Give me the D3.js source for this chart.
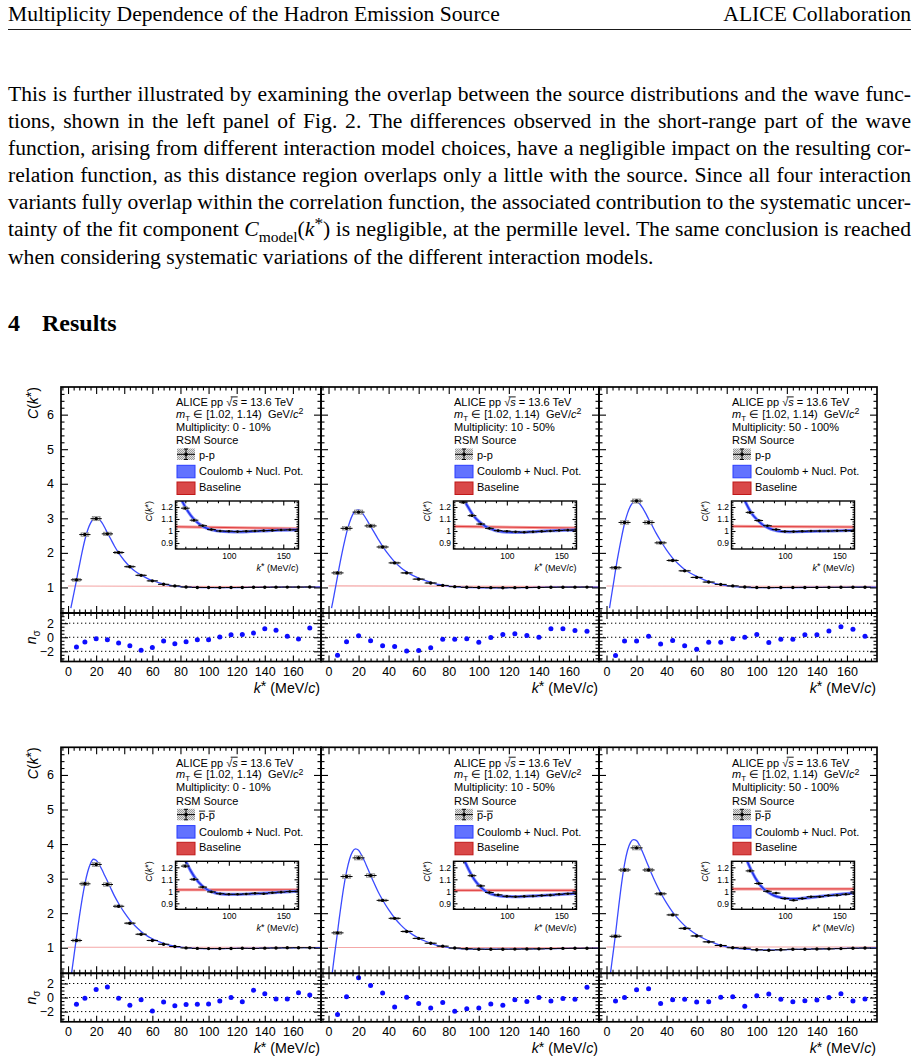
<!DOCTYPE html>
<html><head><meta charset="utf-8">
<script src="https://cdn.jsdelivr.net/npm/d3@7/dist/d3.min.js"></script>
<style>html,body{margin:0;padding:0;background:#fff}svg{display:block}</style>
</head><body>
<svg id="page" width="920" height="1060" xmlns="http://www.w3.org/2000/svg"></svg>
<script>
// ---------------- data ----------------
const kStar = [6, 12, 20, 28, 36, 44, 52, 60, 68, 76, 84, 92, 100, 108, 116, 124, 132, 140, 148, 156, 164, 172];
const kHalfBin = 4;
const statErr = [0.035, 0.04, 0.035, 0.03, 0.025, 0.02, 0.015, 0.012, 0.01, 0.008, 0.007, 0.006, 0.006, 0.005, 0.005, 0.005, 0.005, 0.005, 0.005, 0.005, 0.005, 0.005];
const sysErr  = [0.04, 0.05, 0.06, 0.05, 0.035, 0.025, 0.018, 0.012, 0.009, 0.007, 0.006, 0.005, 0.005, 0.005, 0.005, 0.005, 0.005, 0.005, 0.005, 0.005, 0.005, 0.005];

const cfPP_0_10   = [1.22, 2.53, 2.99, 2.55, 2.01, 1.60, 1.35, 1.19, 1.09, 1.044, 1.012, 1.000, 0.998, 0.995, 0.998, 1.000, 1.003, 1.005, 1.008, 1.010, 1.010, 1.012];
const cfPP_10_50  = [1.42, 2.71, 3.18, 2.78, 2.17, 1.71, 1.42, 1.24, 1.128, 1.058, 1.022, 1.003, 0.998, 0.993, 0.990, 0.993, 0.997, 1.000, 1.004, 1.007, 1.008, 1.010];
const cfPP_50_100 = [1.57, 2.88, 3.50, 2.88, 2.29, 1.78, 1.48, 1.29, 1.155, 1.087, 1.044, 1.012, 0.996, 0.995, 0.998, 1.000, 1.000, 1.000, 1.002, 1.003, 1.005, 1.006];
const cfAP_0_10   = [1.21, 2.85, 3.41, 2.83, 2.20, 1.71, 1.39, 1.21, 1.10, 1.035, 0.995, 0.980, 0.975, 0.975, 0.978, 0.983, 0.980, 0.988, 0.993, 0.998, 1.000, 1.000];
const cfAP_10_50  = [1.43, 3.06, 3.60, 3.09, 2.37, 1.85, 1.47, 1.27, 1.13, 1.045, 0.990, 0.970, 0.958, 0.955, 0.958, 0.960, 0.965, 0.968, 0.975, 0.980, 0.983, 0.985];
const cfAP_50_100 = [1.33, 3.25, 3.89, 3.25, 2.56, 1.95, 1.56, 1.34, 1.17, 1.065, 1.000, 0.985, 0.940, 0.925, 0.940, 0.955, 0.955, 0.965, 0.967, 0.975, 0.985, 0.990];

const nsPP_0_10   = [-1.37, -0.68, -0.2, -0.34, -0.83, -1.22, -1.85, -1.46, -0.54, -0.93, -0.63, -0.34, -0.34, 0.05, 0.34, 0.39, 0.59, 1.22, 0.98, 0.15, -0.24, 1.32];
const nsPP_10_50  = [-2.55, -0.65, 0.2, -0.5, -1.2, -1.3, -1.95, -1.9, -1.5, -0.3, -0.3, -0.2, -0.7, -0.05, 0.4, 0.5, 0.25, 0.0, 1.2, 1.2, 0.95, 0.85];
const nsPP_50_100 = [-2.6, -0.55, -0.55, 0.15, -0.95, -0.45, -1.2, -1.7, -0.7, -0.7, -0.2, 0.0, 0.4, -0.75, -0.3, -0.3, 0.35, 0.35, 0.9, 1.5, 1.15, 0.15];
const nsAP_0_10   = [-0.95, -0.1, 1.15, 1.5, -0.1, -1.1, -0.3, -1.9, -0.65, -1.15, -1.0, -0.95, -0.9, -0.5, 0.0, -0.6, 1.05, 0.55, -0.2, -0.2, 0.7, 0.35];
const nsAP_10_50  = [-2.4, 0.1, 2.8, 1.7, 0.65, -1.35, 0.05, -0.85, -1.5, -0.7, -1.95, -1.6, -1.5, -0.9, -1.1, -0.3, -0.55, 0.0, -0.5, -0.15, -0.25, 1.45];
const nsAP_50_100 = [-0.5, 0.0, 1.1, 1.25, -0.85, -0.3, -0.25, -0.65, -0.6, 0.05, 0.1, -1.25, 0.25, 0.5, -0.25, -0.6, -0.45, -0.35, 0.0, 0.55, -0.5, -0.2];

const kModel = [1, 2, 3, 4, 5, 6, 7, 8, 10, 12, 14, 16, 18, 20, 22, 24, 26, 28, 30, 33, 36, 40, 44, 48, 52, 56, 60, 65, 70, 75, 80, 85, 90, 95, 100, 105, 110, 120, 130, 140, 150, 160, 170, 180];
const modPP_0_10   = [null, 0.40, 0.60, 0.80, 1.00, 1.20, 1.42, 1.62, 2.02, 2.38, 2.66, 2.86, 2.98, 3.02, 2.98, 2.88, 2.74, 2.58, 2.43, 2.20, 2.00, 1.78, 1.60, 1.46, 1.36, 1.27, 1.20, 1.13, 1.08, 1.045, 1.022, 1.008, 1.000, 0.996, 0.994, 0.993, 0.993, 0.996, 1.000, 1.004, 1.007, 1.010, 1.011, 1.012];
const modPP_10_50  = [null, 0.40, 0.62, 0.85, 1.08, 1.32, 1.56, 1.78, 2.20, 2.58, 2.88, 3.10, 3.22, 3.24, 3.18, 3.06, 2.92, 2.77, 2.62, 2.40, 2.19, 1.95, 1.74, 1.58, 1.45, 1.35, 1.27, 1.19, 1.12, 1.075, 1.040, 1.018, 1.003, 0.995, 0.991, 0.989, 0.989, 0.992, 0.997, 1.002, 1.006, 1.008, 1.010, 1.010];
const modPP_50_100 = [null, 0.40, 0.68, 0.95, 1.22, 1.50, 1.76, 2.00, 2.45, 2.85, 3.15, 3.36, 3.46, 3.48, 3.42, 3.30, 3.15, 2.98, 2.82, 2.57, 2.35, 2.08, 1.85, 1.67, 1.52, 1.41, 1.32, 1.22, 1.14, 1.09, 1.05, 1.025, 1.008, 0.998, 0.994, 0.993, 0.994, 0.996, 0.998, 1.000, 1.002, 1.004, 1.005, 1.006];
const modAP_0_10   = [-0.30, 0.10, 0.40, 0.70, 1.00, 1.30, 1.60, 1.88, 2.40, 2.85, 3.20, 3.44, 3.56, 3.53, 3.42, 3.27, 3.10, 2.93, 2.76, 2.50, 2.28, 2.02, 1.80, 1.62, 1.47, 1.35, 1.26, 1.17, 1.10, 1.05, 1.015, 0.995, 0.982, 0.976, 0.974, 0.974, 0.975, 0.979, 0.983, 0.988, 0.994, 0.999, 1.001, 1.002];
const modAP_10_50  = [-0.30, 0.10, 0.45, 0.80, 1.12, 1.45, 1.80, 2.12, 2.72, 3.20, 3.56, 3.78, 3.86, 3.82, 3.68, 3.50, 3.30, 3.10, 2.90, 2.62, 2.38, 2.10, 1.86, 1.66, 1.50, 1.38, 1.28, 1.18, 1.10, 1.045, 1.005, 0.980, 0.967, 0.960, 0.957, 0.956, 0.956, 0.960, 0.964, 0.969, 0.975, 0.980, 0.984, 0.986];
const modAP_50_100 = [-0.30, 0.05, 0.38, 0.72, 1.05, 1.40, 1.78, 2.15, 2.85, 3.42, 3.82, 4.05, 4.13, 4.10, 3.96, 3.77, 3.56, 3.35, 3.14, 2.85, 2.59, 2.29, 2.03, 1.82, 1.64, 1.50, 1.38, 1.26, 1.16, 1.08, 1.025, 0.990, 0.965, 0.950, 0.942, 0.938, 0.938, 0.945, 0.955, 0.965, 0.975, 0.983, 0.990, 0.994];

const kBaseline = [0, 180];
const basePP_0_10 = [1.042, 1.018], basePP_10_50 = [1.045, 1.022], basePP_50_100 = [1.042, 1.032];
const baseAP_0_10 = [1.012, 1.012], baseAP_10_50 = [1.008, 1.008], baseAP_50_100 = [1.02, 1.02];

const multClasses = ["0 - 10%", "10 - 50%", "50 - 100%"];
const xTickLabels = [0, 20, 40, 60, 80, 100, 120, 140, 160];
const mainYTicks = [1, 2, 3, 4, 5, 6];
const nsTicks = [-2, 0, 2];
const insetXTicks = [100, 150];
const insetYTicks = [0.9, 1, 1.1, 1.2];

const headerLeft = "Multiplicity Dependence of the Hadron Emission Source";
const headerRight = "ALICE Collaboration";
const paragraphLines = [
  "This is further illustrated by examining the overlap between the source distributions and the wave func-",
  "tions, shown in the left panel of Fig. 2. The differences observed in the short-range part of the wave",
  "function, arising from different interaction model choices, have a negligible impact on the resulting cor-",
  "relation function, as this distance region overlaps only a little with the source. Since all four interaction",
  "variants fully overlap within the correlation function, the associated contribution to the systematic uncer-",
  ["tainty of the fit component ", {t:"C", i:true}, {t:"model", sub:true}, "(", {t:"k", i:true}, {t:"*", sup:true}, ") is negligible, at the permille level. The same conclusion is reached"],
  "when considering systematic variations of the different interaction models."
];
const sectionNumber = "4", sectionTitle = "Results";

// ---------------- layout ----------------
const SANS = "'Liberation Sans', Arial, Helvetica, sans-serif";
const SERIF = "'Liberation Serif', 'Times New Roman', Times, serif";
const colX = [[61, 321], [321, 599], [599, 877]];
const rowTop = [387, 747.3];
const mainH = 226, ratioH = 48.5;
const xDomain = [-5, 180], yDomain = [0.26, 6.8], nsDomain = [-3.45, 3.45];
const insetXDomain = [51, 164], insetYDomain = [0.85, 1.25];

const svg = d3.select('#page');
const defs = svg.append('defs');
const pat = defs.append('pattern').attr('id', 'hatch').attr('width', 2).attr('height', 2).attr('patternUnits', 'userSpaceOnUse');
pat.append('rect').attr('width', 2).attr('height', 2).attr('fill', '#e2e2e2');
pat.append('rect').attr('width', 1).attr('height', 1).attr('fill', '#9a9a9a');
pat.append('rect').attr('x', 1).attr('y', 1).attr('width', 1).attr('height', 1).attr('fill', '#9a9a9a');

function rich(sel, parts, fs, starBig) {
  let shift = 0;
  parts.forEach(p => {
    if (typeof p === 'string') p = {t: p};
    const ts = sel.append('tspan').text(p.t);
    let target = 0, size = null;
    if (p.sub) { target = fs * 0.28; size = fs * 0.72; }
    if (p.sup) {
      if (starBig && p.t === '*') { target = -fs * 0.12; size = fs; }
      else { target = -fs * 0.34; size = fs * 0.8; }
    }
    if (target - shift !== 0) ts.attr('dy', target - shift);
    shift = target;
    if (size) ts.attr('font-size', size);
    if (p.i) ts.attr('font-style', 'italic');
  });
  return sel;
}
function justify(sel, target) {
  const n = sel.node();
  const nat = n.getComputedTextLength();
  const spaces = (n.textContent.match(/ /g) || []).length;
  if (spaces) sel.style('word-spacing', ((target - nat) / spaces) + 'px');
}
function overline(parent, textSel, i0, i1, y, startFrac) {
  const n = textSel.node();
  const a = n.getExtentOfChar(i0), b = n.getExtentOfChar(i1);
  parent.append('line').attr('x1', a.x + a.width * (startFrac || 0)).attr('x2', b.x + b.width)
    .attr('y1', y).attr('y2', y).attr('stroke', '#000').attr('stroke-width', 0.9);
}

// ---------------- page text ----------------
const page = svg.append('g').attr('font-family', SERIF).attr('fill', '#000');
page.append('text').attr('x', 8).attr('y', 20.7).attr('font-size', 21.6).text(headerLeft);
page.append('text').attr('x', 911).attr('y', 20.7).attr('font-size', 21.6).attr('text-anchor', 'end').text(headerRight);
page.append('line').attr('x1', 8).attr('x2', 911).attr('y1', 29.5).attr('y2', 29.5).attr('stroke', '#000').attr('stroke-width', 0.9);
paragraphLines.forEach((ln, i) => {
  const t = page.append('text').attr('x', 8).attr('y', 100.8 + i * 27.13).attr('font-size', 21.6);
  rich(t, Array.isArray(ln) ? ln : [ln], 21.6, false);
  if (i < paragraphLines.length - 1) justify(t, 903);
});
page.append('text').attr('x', 8).attr('y', 330.5).attr('font-size', 24).attr('font-weight', 'bold').text(sectionNumber);
page.append('text').attr('x', 42).attr('y', 330.5).attr('font-size', 24).attr('font-weight', 'bold').text(sectionTitle);

// ---------------- panels ----------------
const panels = [
  {row: 0, col: 0, anti: false, cf: cfPP_0_10,   ns: nsPP_0_10,   model: modPP_0_10,   base: basePP_0_10},
  {row: 0, col: 1, anti: false, cf: cfPP_10_50,  ns: nsPP_10_50,  model: modPP_10_50,  base: basePP_10_50},
  {row: 0, col: 2, anti: false, cf: cfPP_50_100, ns: nsPP_50_100, model: modPP_50_100, base: basePP_50_100},
  {row: 1, col: 0, anti: true,  cf: cfAP_0_10,   ns: nsAP_0_10,   model: modAP_0_10,   base: baseAP_0_10},
  {row: 1, col: 1, anti: true,  cf: cfAP_10_50,  ns: nsAP_10_50,  model: modAP_10_50,  base: baseAP_10_50},
  {row: 1, col: 2, anti: true,  cf: cfAP_50_100, ns: nsAP_50_100, model: modAP_50_100, base: baseAP_50_100}
];

function tickAxis(g, axisFn, scale, values, size, tx, ty, fmt, pad, fs) {
  const a = axisFn(scale).tickValues(values).tickSize(size).tickSizeOuter(0)
    .tickFormat(fmt || (() => '')).tickPadding(pad || 3);
  const ag = g.append('g').attr('transform', `translate(${tx},${ty})`).call(a);
  ag.select('.domain').remove();
  ag.selectAll('line').attr('stroke', '#000').attr('stroke-width', 1.1);
  ag.attr('font-family', SANS).attr('font-size', fs || 12.5);
  ag.selectAll('text').attr('fill', '#000');
  return ag;
}
function isMult(v, step) { return Math.abs(v / step - Math.round(v / step)) < 1e-6; }
function frameTicks(g, x, y, o) {
  const [x0, x1] = x.range(); const [yb, yt] = y.range();
  tickAxis(g, d3.axisBottom, x, o.xMaj, -o.xl, 0, yb);
  tickAxis(g, d3.axisBottom, x, o.xMin, -o.xl / 2, 0, yb);
  tickAxis(g, d3.axisTop, x, o.xMaj, -o.xl, 0, yt);
  tickAxis(g, d3.axisTop, x, o.xMin, -o.xl / 2, 0, yt);
  tickAxis(g, d3.axisLeft, y, o.yMaj, -o.yl, x0, 0);
  tickAxis(g, d3.axisLeft, y, o.yMin, -o.yl / 2, x0, 0);
  tickAxis(g, d3.axisRight, y, o.yMaj, -o.yl, x1, 0);
  tickAxis(g, d3.axisRight, y, o.yMin, -o.yl / 2, x1, 0);
}

const xMinor = d3.range(-4, 180, 4).filter(v => !isMult(v, 20));
const xMajor = d3.range(0, 180, 20);
const yMinor = d3.range(0.4, 6.8, 0.2).filter(v => !isMult(v, 1));
const nsMinor = d3.range(-3, 3.01, 0.5).filter(v => !isMult(v, 2));
const ixMinor = d3.range(60, 164, 10).filter(v => !isMult(v, 50));
const iyMinor = d3.range(0.86, 1.25, 0.02).filter(v => !isMult(v, 0.1));

const modelColor = '#3b4bff';

panels.forEach((P, pi) => {
  const [x0, x1] = colX[P.col];
  const top = rowTop[P.row];
  const mainBot = top + mainH, ratBot = mainBot + ratioH;
  const x = d3.scaleLinear().domain(xDomain).range([x0, x1]);
  const y = d3.scaleLinear().domain(yDomain).range([mainBot, top]);
  const yr = d3.scaleLinear().domain(nsDomain).range([ratBot, mainBot]);
  const g = svg.append('g');

  defs.append('clipPath').attr('id', 'cm' + pi).append('rect')
    .attr('x', x0).attr('y', top).attr('width', x1 - x0).attr('height', mainH);
  const gm = g.append('g').attr('clip-path', `url(#cm${pi})`);
  gm.append('line').attr('x1', x(kBaseline[0])).attr('x2', x(kBaseline[1]))
    .attr('y1', y(P.base[0])).attr('y2', y(P.base[1]))
    .attr('stroke', '#f08a8a').attr('stroke-opacity', 0.75).attr('stroke-width', 1.1);
  const modelPts = kModel.map((k, j) => ({k, v: P.model[j]}));
  gm.append('path').datum(modelPts)
    .attr('d', d3.line().defined(d => d.v != null).x(d => x(d.k)).y(d => y(d.v)).curve(d3.curveMonotoneX))
    .attr('fill', 'none').attr('stroke', modelColor).attr('stroke-width', 1.3);
  const pts = kStar.map((k, j) => ({k, v: P.cf[j], s: statErr[j], sy: sysErr[j]}));
  const drawData = (grp, xs, ys, boxHalf, r) => {
    grp.selectAll(null).data(pts).join('rect')
      .attr('x', d => xs(d.k - boxHalf)).attr('width', d => xs(d.k + boxHalf) - xs(d.k - boxHalf))
      .attr('y', d => ys(d.v + d.sy)).attr('height', d => ys(d.v - d.sy) - ys(d.v + d.sy))
      .attr('fill', 'url(#hatch)').attr('stroke', '#7a7a7a').attr('stroke-width', 0.6);
    grp.selectAll(null).data(pts).join('line')
      .attr('x1', d => xs(d.k - kHalfBin)).attr('x2', d => xs(d.k + kHalfBin))
      .attr('y1', d => ys(d.v)).attr('y2', d => ys(d.v)).attr('stroke', '#000').attr('stroke-width', 1);
    grp.selectAll(null).data(pts).join('line')
      .attr('x1', d => xs(d.k)).attr('x2', d => xs(d.k))
      .attr('y1', d => ys(d.v - d.s)).attr('y2', d => ys(d.v + d.s)).attr('stroke', '#000').attr('stroke-width', 1);
    grp.selectAll(null).data(pts).join('circle')
      .attr('cx', d => xs(d.k)).attr('cy', d => ys(d.v)).attr('r', r).attr('fill', '#000');
  };
  drawData(gm.append('g'), x, y, 2.8, 1.7);

  const gr = g.append('g');
  nsTicks.forEach(v => gr.append('line').attr('x1', x0).attr('x2', x1).attr('y1', yr(v)).attr('y2', yr(v))
    .attr('stroke', '#000').attr('stroke-width', 1).attr('stroke-dasharray', '1.3,2.7'));
  gr.selectAll(null).data(kStar.map((k, j) => ({k, v: P.ns[j]}))).join('circle')
    .attr('cx', d => x(d.k)).attr('cy', d => yr(d.v)).attr('r', 2.5).attr('fill', '#0d0dff');

  g.append('rect').attr('x', x0).attr('y', top).attr('width', x1 - x0).attr('height', mainH)
    .attr('fill', 'none').attr('stroke', '#000').attr('stroke-width', 1.7);
  g.append('rect').attr('x', x0).attr('y', mainBot).attr('width', x1 - x0).attr('height', ratioH)
    .attr('fill', 'none').attr('stroke', '#000').attr('stroke-width', 1.7);
  frameTicks(g, x, y, {xMaj: xMajor, xMin: xMinor, yMaj: mainYTicks, yMin: yMinor, xl: 7, yl: 7});
  frameTicks(g, x, yr, {xMaj: xMajor, xMin: xMinor, yMaj: nsTicks, yMin: nsMinor, xl: 6, yl: 7});

  tickAxis(g, d3.axisBottom, x, xTickLabels, 0, 0, ratBot, d => d, 5.2, 12.5);
  const xt = g.append('text').attr('x', x1 - 1).attr('y', ratBot + 31.5).attr('text-anchor', 'end')
    .attr('font-family', SANS).attr('font-size', 14.2);
  rich(xt, [{t: 'k', i: true}, {t: '*', sup: true}, ' (MeV/', {t: 'c', i: true}, ')'], 14.2, true);

  if (P.col === 0) {
    tickAxis(g, d3.axisLeft, y, mainYTicks, 0, x0, 0, d => d, 7, 12.5);
    tickAxis(g, d3.axisLeft, yr, nsTicks, 0, x0, 0, d => d3.format('')(d).replace('-', '\u2212'), 7, 12.5);
    const yt = g.append('text').attr('transform', `translate(38,${top}) rotate(-90)`).attr('text-anchor', 'end')
      .attr('font-family', SANS).attr('font-size', 14);
    rich(yt, [{t: 'C', i: true}, '(', {t: 'k', i: true}, {t: '*', sup: true}, ')'], 14, true);
    const nt = g.append('text').attr('transform', `translate(36,${(mainBot + ratBot) / 2}) rotate(-90)`).attr('text-anchor', 'middle')
      .attr('font-family', SANS).attr('font-size', 14);
    rich(nt, [{t: 'n', i: true}, {t: '\u03c3', sub: true}], 14);
  }

  const lg = g.append('g').attr('font-family', SANS).attr('font-size', 11).attr('fill', '#000');
  const lx = x1 - 145;
  const lb = [19.2, 31, 44, 57.3, 72, 88.3, 104].map(o => top + o);
  const l1 = lg.append('text').attr('x', lx).attr('y', lb[0]);
  rich(l1, ['ALICE pp ', '\u221a', {t: 's', i: true}, ' = 13.6 TeV'], 11);
  overline(lg, l1, 9, 10, lb[0] - 9.3, 0.75);
  const l2 = lg.append('text').attr('x', lx).attr('y', lb[1]);
  rich(l2, [{t: 'm', i: true}, {t: 'T', sub: true}, ' \u2208 [1.02, 1.14)\u00a0 GeV/', {t: 'c', i: true}, {t: '2', sup: true}], 11);
  lg.append('text').attr('x', lx).attr('y', lb[2]).text('Multiplicity: ' + multClasses[P.col]);
  lg.append('text').attr('x', lx).attr('y', lb[3]).text('RSM Source');
  const bx = lx + 1, bw = 18;
  lg.append('rect').attr('x', bx).attr('y', lb[4] - 10.5).attr('width', bw).attr('height', 11.5)
    .attr('fill', 'url(#hatch)').attr('stroke', 'none');
  lg.append('line').attr('x1', bx).attr('x2', bx + bw).attr('y1', lb[4] - 4.7).attr('y2', lb[4] - 4.7).attr('stroke', '#000').attr('stroke-width', 1);
  lg.append('line').attr('x1', bx + bw / 2).attr('x2', bx + bw / 2).attr('y1', lb[4] - 10).attr('y2', lb[4] + 0.5).attr('stroke', '#000').attr('stroke-width', 1);
  [lb[4] - 10, lb[4] + 0.5].forEach(yy => lg.append('line').attr('x1', bx + bw / 2 - 2).attr('x2', bx + bw / 2 + 2)
    .attr('y1', yy).attr('y2', yy).attr('stroke', '#000').attr('stroke-width', 1));
  lg.append('circle').attr('cx', bx + bw / 2).attr('cy', lb[4] - 4.7).attr('r', 1.8).attr('fill', '#000');
  const l5 = lg.append('text').attr('x', lx + 23).attr('y', lb[4]).text('p-p');
  if (P.anti) { overline(lg, l5, 0, 0, lb[4] - 8.2, 0); overline(lg, l5, 2, 2, lb[4] - 8.2, 0); }
  lg.append('rect').attr('x', bx).attr('y', lb[5] - 10).attr('width', bw).attr('height', 12.5)
    .attr('fill', '#6272ff').attr('stroke', '#2a3cff').attr('stroke-width', 1);
  lg.append('text').attr('x', lx + 23).attr('y', lb[5]).text('Coulomb + Nucl. Pot.');
  lg.append('rect').attr('x', bx).attr('y', lb[6] - 9).attr('width', bw).attr('height', 12.5)
    .attr('fill', '#d94848').attr('stroke', '#c01818').attr('stroke-width', 1);
  lg.append('text').attr('x', lx + 23).attr('y', lb[6]).text('Baseline');

  const ix1 = x1 - 22.5, ix0 = ix1 - 123, iy0 = top + 114, iy1 = top + 162;
  const xi = d3.scaleLinear().domain(insetXDomain).range([ix0, ix1]);
  const yi = d3.scaleLinear().domain(insetYDomain).range([iy1, iy0]);
  const gi = g.append('g');
  gi.append('rect').attr('x', ix0).attr('y', iy0).attr('width', ix1 - ix0).attr('height', iy1 - iy0).attr('fill', '#fff');
  defs.append('clipPath').attr('id', 'ci' + pi).append('rect')
    .attr('x', ix0).attr('y', iy0).attr('width', ix1 - ix0).attr('height', iy1 - iy0);
  const gic = gi.append('g').attr('clip-path', `url(#ci${pi})`);
  gic.append('line').attr('x1', xi(kBaseline[0])).attr('x2', xi(kBaseline[1]))
    .attr('y1', yi(P.base[0])).attr('y2', yi(P.base[1])).attr('stroke', '#f4a0a0').attr('stroke-width', 3);
  gic.append('line').attr('x1', xi(kBaseline[0])).attr('x2', xi(kBaseline[1]))
    .attr('y1', yi(P.base[0])).attr('y2', yi(P.base[1])).attr('stroke', '#e03c3c').attr('stroke-width', 1);
  const iline = d3.line().defined(d => d.v != null).x(d => xi(d.k)).y(d => yi(d.v)).curve(d3.curveMonotoneX);
  gic.append('path').datum(modelPts).attr('d', iline).attr('fill', 'none').attr('stroke', '#7d88ff').attr('stroke-width', 3.2);
  gic.append('path').datum(modelPts).attr('d', iline).attr('fill', 'none').attr('stroke', '#1f2fe8').attr('stroke-width', 1.4);
  drawData(gic.append('g'), xi, yi, 2.2, 1.3);
  gi.append('rect').attr('x', ix0).attr('y', iy0).attr('width', ix1 - ix0).attr('height', iy1 - iy0)
    .attr('fill', 'none').attr('stroke', '#000').attr('stroke-width', 1.4);
  frameTicks(gi, xi, yi, {xMaj: insetXTicks, xMin: ixMinor, yMaj: insetYTicks, yMin: iyMinor, xl: 4.5, yl: 4});
  tickAxis(gi, d3.axisBottom, xi, insetXTicks, 0, 0, iy1, d => d, 4, 8.5);
  tickAxis(gi, d3.axisLeft, yi, insetYTicks, 0, ix0, 0, d => d, 2.5, 8.5);
  const ixt = gi.append('text').attr('x', ix1).attr('y', iy1 + 21.5).attr('text-anchor', 'end')
    .attr('font-family', SANS).attr('font-size', 9);
  rich(ixt, [{t: 'k', i: true}, {t: '*', sup: true}, ' (MeV/', {t: 'c', i: true}, ')'], 9, true);
  const iyt = gi.append('text').attr('transform', `translate(${ix0 - 23.5},${iy0}) rotate(-90)`).attr('text-anchor', 'end')
    .attr('font-family', SANS).attr('font-size', 9);
  rich(iyt, [{t: 'C', i: true}, '(', {t: 'k', i: true}, {t: '*', sup: true}, ')'], 9, true);
});
</script>
</body></html>
